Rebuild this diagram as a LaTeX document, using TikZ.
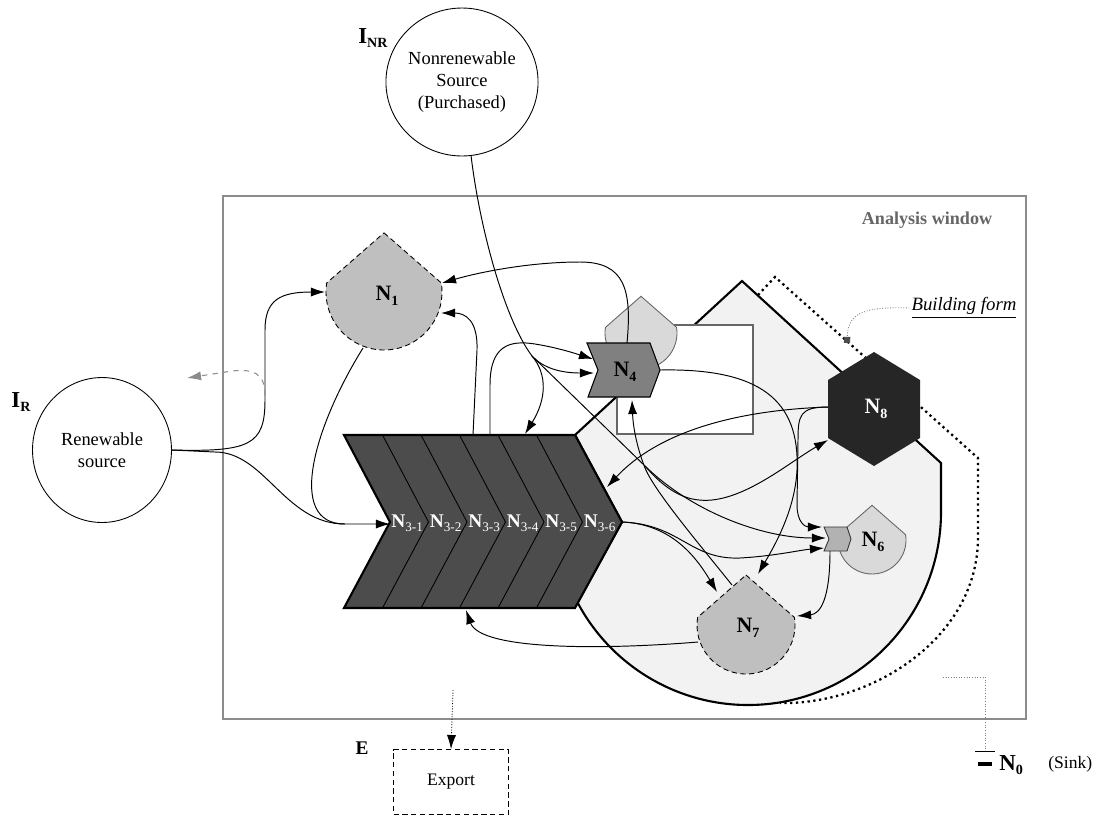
\documentclass[tikz,border=0pt]{standalone}
\usepackage{fontspec}
\setmainfont{Liberation Serif}
\usetikzlibrary{shapes,arrows.meta,positioning,calc}

\newcommand{\nsub}[2]{\textbf{#1}\raisebox{-0.45ex}{\fontsize{8}{8}\selectfont\textbf{#2}}}
\newcommand{\nsubr}[2]{\textbf{#1}\raisebox{-0.45ex}{\fontsize{7.5}{7.5}\selectfont #2}}
% bulb: pointed top, round bottom (style, cx, cy, r)
\newcommand{\bulb}[4]{\path[#1, shift={(#2,#3)}] (0,-1.02*#4) -- (-9:#4) arc[start angle=-9, end angle=189, radius=#4] -- cycle;}

\begin{document}
\begin{tikzpicture}[
    x=0.02cm, y=-0.02cm,
    flow/.style={-{Latex[length=8pt,width=5.2pt]}, line width=0.55pt},
    plain/.style={line width=0.55pt},
    lost/.style={-{Latex[length=8pt,width=5.2pt]}, line width=0.6pt, dashed, draw=black!45},
    src/.style={ellipse, draw, line width=0.5pt, align=center, inner sep=0pt, font=\fontsize{10.5}{12.5}\selectfont},
    window/.style={draw=black!45, line width=0.9pt},
    wintext/.style={font=\bfseries\fontsize{10.3}{12}\selectfont, text=black!60},
    building/.style={fill=black!5, draw=black, line width=1.2pt},
    bfline/.style={dotted, line width=1.3pt},
    leader/.style={densely dotted, draw=black!50, line width=0.5pt, -{Square[length=3.5pt,width=3.5pt,fill=black!70,color=black!70]}},
    chev/.style={fill=black!70, draw=black, line width=1.2pt},
    nlab/.style={inner sep=0pt, font=\fontsize{12.5}{12.5}\selectfont},
    n3lab/.style={inner sep=0pt, text=white, font=\fontsize{11}{11}\selectfont},
    ilab/.style={inner sep=0pt, font=\fontsize{13}{13}\selectfont}
]
\useasboundingbox (0,0) rectangle (1108,819);

% analysis window
\draw[window] (223,196) rectangle (1026,719);
\node[wintext] (win) at (927,220) {Analysis window};

% building form
\path[building] (575,435) -- (742,281) -- (941,463) -- (941,512) arc[start angle=0, end angle=152, radius=193] -- (622,522) -- cycle;
\draw[bfline] (758,295) -- (775,277) -- (978,458) -- (978,540) .. controls (976,640) and (870,705) .. (780,703);
\node[font=\itshape\fontsize{10.7}{12}\selectfont, inner sep=1pt] (bf) at (964,308) {\underline{Building form}};
\draw[leader] (bf.west) .. controls (858,306) and (848,316) .. (847,343);

% N4 area
\draw[fill=white, draw=black!60, line width=0.7pt] (617,325) rectangle (753,434);
\bulb{fill=black!15, draw=black!60, line width=0.5pt}{641}{333}{36}
\path[fill=black!50, draw=black, line width=0.6pt] (587,343) -- (650,343) -- (660,370) -- (650,397) -- (588,397) -- (598,370) -- cycle;
\node[nlab] (n4) at (625,372) {\nsub{N}{4}};

% N1
\bulb{fill=black!25, draw=black, densely dashed, line width=0.5pt}{384}{292}{58}
\node[nlab] (n1) at (387,296) {\nsub{N}{1}};

% N3 chevron
\path[chev] (344,435) -- (575,435) -- (622,522) -- (575,608) -- (344,608) -- (390,522) -- cycle;
\foreach \k in {1,...,5}
    \draw[line width=0.5pt] (344+38.5*\k,435) -- (390+38.5*\k,522) -- (344+38.5*\k,608);
\foreach \k in {1,...,6}
    \node[n3lab, anchor=west] (n3\k) at (352.5+38.5*\k,523) {\nsubr{N}{3-\k}};

% N8
\path[fill=black!85] (874,352) -- (920,380) -- (920,438) -- (874,466) -- (828,438) -- (828,380) -- cycle;
\node[nlab, text=white] (n8) at (876,409) {\nsub{N}{8}};

% N6
\bulb{fill=black!15, draw=black!60, line width=0.5pt}{872}{540}{34}
\path[fill=black!30, draw=black!80, line width=0.5pt] (824,527) -- (847,527) -- (851,539) -- (847,551) -- (824,551) -- (829,539) -- cycle;
\node[nlab] (n6) at (873,542) {\nsub{N}{6}};

% N7
\bulb{fill=black!25, draw=black, densely dashed, line width=0.5pt}{746}{625}{49}
\node[nlab] (n7) at (748,628) {\nsub{N}{7}};

% sources and export
\node[src, minimum width=2.78cm, minimum height=2.96cm] (inr) at (462,82) {Nonrenewable\\Source\\(Purchased)};
\node[ilab] (inrlab) at (373,38) {\nsub{I}{NR}};
\node[src, minimum width=2.78cm, minimum height=2.9cm] (rs) at (102,450) {Renewable\\source};
\node[ilab] (irlab) at (21,402) {\nsub{I}{R}};
\node[draw, densely dashed, line width=0.5pt, minimum width=2.3cm, minimum height=1.3cm, font=\fontsize{10}{12}\selectfont] (ex) at (451,782) {Export};
\node[ilab, font=\bfseries\fontsize{11}{11}\selectfont] (elab) at (362,748) {E};

% ports
\coordinate (n1w) at (325,292);
\coordinate (n1e) at (442,283);
\coordinate (n1se) at (441,313);
\coordinate (n1s) at (363,348);
\coordinate (n3in) at (390,524);
\coordinate (n3t1) at (473,435);
\coordinate (n3t2) at (490,435);
\coordinate (n3t3) at (525,434);
\coordinate (n3r) at (607,487);
\coordinate (n3out) at (622,522);
\coordinate (n3b) at (466,610);
\coordinate (n4t) at (627,343);
\coordinate (n4w1) at (593,359);
\coordinate (n4w2) at (594,373);
\coordinate (n4e) at (660,370);
\coordinate (n4b) at (632,400);
\coordinate (n6w1) at (822,527);
\coordinate (n6w2) at (826,538);
\coordinate (n6w3) at (824,548);
\coordinate (n6s) at (830,551);
\coordinate (n7tl) at (717,592);
\coordinate (n7tr) at (758,574);
\coordinate (n7top) at (732,585);
\coordinate (n7e) at (797,616);
\coordinate (n7w) at (698,642);
\coordinate (n8w) at (828,407);
\coordinate (n8sw) at (828,440);
\coordinate (split) at (265,395);
\coordinate (lostend) at (187,378);
\coordinate (fan) at (532,356);
\coordinate (fan2) at (645,466);
\coordinate (exin) at (453,690);

% renewable source flows
\draw[flow] (rs.east) .. controls (250,452) and (265,445) .. (265,400) -- (265,330) .. controls (265,300) and (280,292) .. (n1w);
\draw[flow] (rs.east) -- (215,452) .. controls (265,452) and (285,524) .. (345,524) -- (n3in);
\draw[lost] (split) .. controls (265,372) and (252,369) .. (232,371) -- (lostend);
\draw[plain] (n1s) .. controls (315,425) and (285,524) .. (345,524);

% nonrenewable source flows
\draw[plain] (inr.277) .. controls (480,230) and (505,320) .. (fan);
\draw[flow] (fan) .. controls (545,370) and (565,373) .. (n4w2);
\draw[flow] (fan) .. controls (548,375) and (546,400) .. (n3t3);
\draw[plain] (fan) -- (fan2);
\draw[flow] (fan2) .. controls (690,510) and (760,538) .. (n6w2);
\draw[flow] (fan2) .. controls (670,495) and (690,502) .. (712,500) .. controls (750,496) and (790,462) .. (n8sw);

% internal flows
\draw[flow] (n4t) .. controls (632,290) and (625,262) .. (580,262) .. controls (530,262) and (480,272) .. (n1e);
\draw[flow] (n3t1) -- (477,350) .. controls (478,320) and (465,313) .. (n1se);
\draw[flow] (n3t2) -- (490,385) .. controls (490,345) and (510,340) .. (535,344) .. controls (560,348) and (580,355) .. (n4w1);
\draw[flow] (n8w) .. controls (740,410) and (660,430) .. (n3r);
\draw[flow] (n8w) .. controls (800,407) and (798,415) .. (798,440) -- (797,505) .. controls (797,522) and (805,527) .. (n6w1);
\draw[flow] (n4e) .. controls (760,368) and (800,400) .. (797,470) .. controls (795,510) and (775,545) .. (n7tr);
\draw[flow] (n3out) .. controls (680,524) and (690,560) .. (740,558) .. controls (775,556) and (800,550) .. (n6w3);
\draw[flow] (n3out) .. controls (670,524) and (695,555) .. (n7tl);
\draw[flow] (n7top) .. controls (700,545) and (655,492) .. (645,468) .. controls (636,445) and (633,425) .. (n4b);
\draw[flow] (n6s) .. controls (830,600) and (820,614) .. (n7e);
\draw[flow] (n7w) .. controls (600,650) and (480,650) .. (n3b);

% export and sink
\draw[densely dotted, line width=0.5pt, -{Latex[length=8pt,width=5.2pt]}] (exin) -- (ex.north);
\draw[densely dotted, draw=black!50, line width=0.5pt] (943,677) -- (985,677) -- (985,751);
\draw[line width=0.5pt] (975,751) -- (995,751);
\draw[line width=2pt] (978,764) -- (992,764);
\node[ilab, anchor=west] (n0) at (999,765) {\nsub{N}{0}};
\node[anchor=west, inner sep=0pt, font=\fontsize{10}{12}\selectfont] (sink) at (1048,764) {(Sink)};
\end{tikzpicture}
\end{document}
